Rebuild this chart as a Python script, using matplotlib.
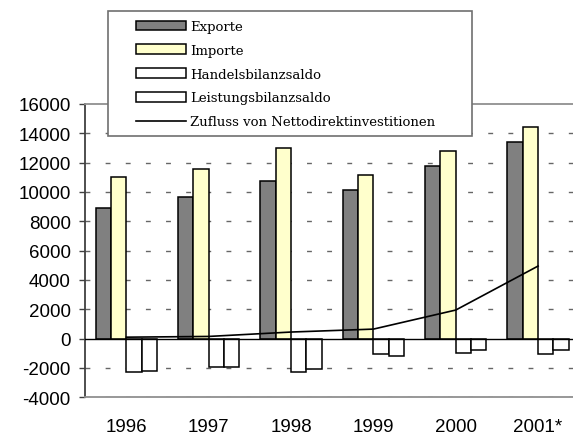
import matplotlib
matplotlib.use("Agg")
import matplotlib.pyplot as plt
import numpy as np
from matplotlib.patches import Rectangle

plt.rcParams["axes.unicode_minus"] = False

years = ["1996", "1997", "1998", "1999", "2000", "2001*"]
exporte = [8900, 9650, 10750, 10150, 11800, 13400]
importe = [11050, 11600, 13000, 11150, 12800, 14400]
handelsbilanzsaldo = [-2250, -1950, -2250, -1050, -950, -1050]
leistungsbilanzsaldo = [-2200, -1950, -2050, -1200, -750, -750]
nettodirektinvestitionen = [100, 150, 450, 650, 1950, 4950]

W, H = 573, 435
fig = plt.figure(figsize=(W / 100, H / 100), dpi=100)
ax = fig.add_axes([85.25 / W, 1 - 398.3 / H, 494 / W, (398.3 - 105) / H])

x = np.arange(len(years))
bw = 0.186
series = [
    (exporte, "#808080", "Exporte"),
    (importe, "#ffffcc", "Importe"),
    (handelsbilanzsaldo, "#ffffff", "Handelsbilanzsaldo"),
    (leistungsbilanzsaldo, "#ffffff", "Leistungsbilanzsaldo"),
]
handles = []
for i, (vals, color, label) in enumerate(series):
    b = ax.bar(x + (i - 1.5) * bw, vals, bw, color=color, edgecolor="black",
               linewidth=1.1, label=label, zorder=3)
    handles.append(b)
line, = ax.plot(x, nettodirektinvestitionen, color="black", lw=1.2, zorder=4,
                label="Zufluss von Nettodirektinvestitionen")
handles.append(line)

ax.axhline(0, color="black", lw=1.0, zorder=5)

ax.set_xlim(-0.5, 5.5)
ax.set_ylim(-4000, 16000)
ax.set_yticks(np.arange(-4000, 16001, 2000))
ax.set_xticks(x)
ax.set_xticklabels(years)

for yv in range(-4000, 16000, 2000):
    if yv != 0:
        ax.axhline(yv, color="#666666", lw=1.0, linestyle=(0, (3.5, 11)), zorder=1)

ax.spines["right"].set_visible(False)
for s in ("top", "bottom"):
    ax.spines[s].set_color("#909090")
    ax.spines[s].set_linewidth(1.3)
ax.spines["left"].set_color("#404040")
ax.spines["left"].set_linewidth(1.3)

ax.tick_params(axis="y", direction="out", length=4.5, width=1.0, color="#404040",
               pad=6, labelsize=13.5)
ax.tick_params(axis="x", length=0, pad=15, labelsize=13.5)
for lbl in ax.get_xticklabels() + ax.get_yticklabels():
    lbl.set_family("Liberation Sans")

# legend box with its own frame
fig.add_artist(Rectangle((108.3 / W, 1 - 136.7 / H), (472.3 - 108.3) / W,
                         (136.7 - 12.3) / H, transform=fig.transFigure,
                         facecolor="white", edgecolor="#707070", lw=1.2, zorder=4))
leg = fig.legend(handles=handles, loc="upper left",
                 bbox_to_anchor=(135.7 / W, 1 - 21 / H), frameon=False,
                 borderpad=0, borderaxespad=0, handlelength=3.8, handleheight=0.75,
                 handletextpad=0.3, labelspacing=0.82,
                 prop={"family": "DejaVu Serif", "size": 9.5})
leg.set_zorder(5)

fig.savefig("out.png", dpi=100)
